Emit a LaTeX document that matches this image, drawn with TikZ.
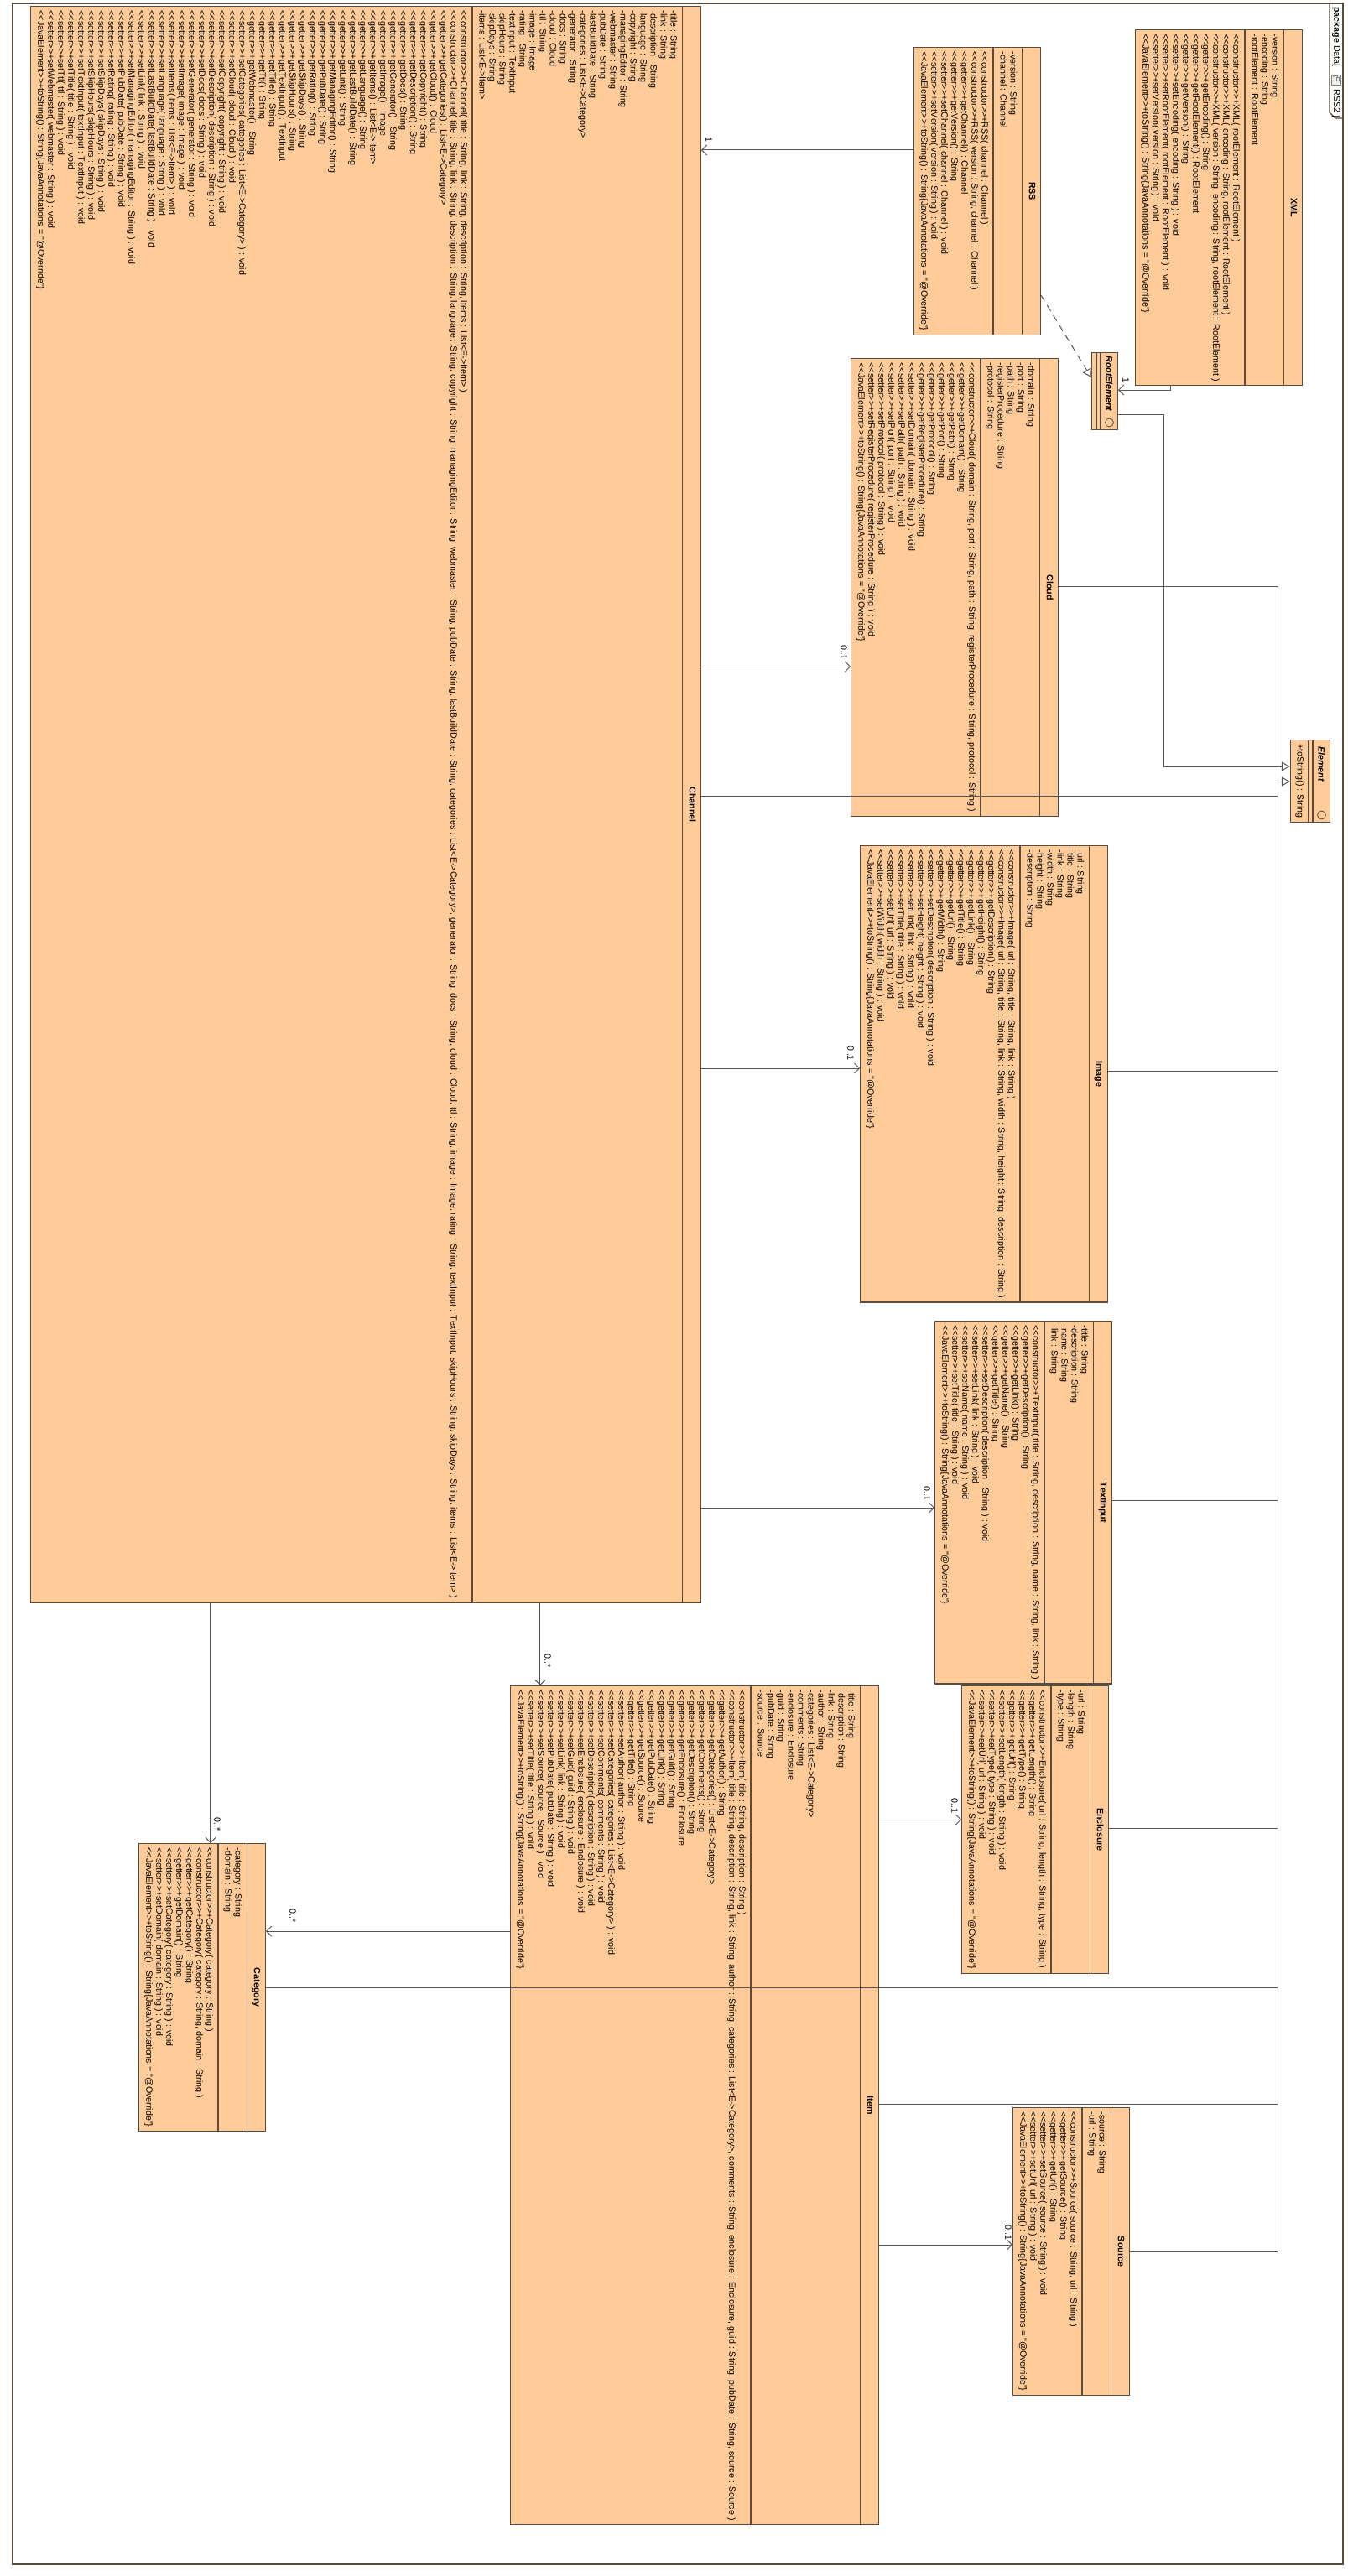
\documentclass[tikz,border=0pt]{standalone}
\usepackage{fontspec}
\newfontfamily\umlf{Liberation Sans}[Kerning=Off]
\usetikzlibrary{shapes.multipart,arrows.meta}
\definecolor{boxfill}{RGB}{255,204,153}
\definecolor{boxline}{RGB}{92,74,58}
\definecolor{linecol}{RGB}{85,85,85}
\newcommand\st[1]{<\kern0pt<#1>\kern0pt>}
\newcommand\umlsize{\umlf\fontsize{5.35}{6}\selectfont}
\newcommand\tostr{\st{JavaElement}+toString() : String\{JavaAnnotations = "@Override"\}}
\newcommand\umlclass[6]{\node[umlbox, minimum width=#3] (#1) at (#2) {\begin{tabular}{@{}c@{}}\textbf{#4}\end{tabular}\nodepart{two}\begin{tabular}{@{}l@{}}#5\end{tabular}\nodepart{three}\begin{tabular}{@{}l@{}}#6\end{tabular}};}
\tikzset{
 umlbox/.style={rectangle split, rectangle split parts=3, draw=boxline, fill=boxfill, line width=0.6pt, inner xsep=2.5pt, inner ysep=2.25pt, anchor=north west, font=\umlsize, rectangle split part align={center,left,left}},
 plainbox/.style={draw=boxline, fill=boxfill, line width=0.6pt, inner sep=0pt, anchor=north west},
 assoc/.style={draw=linecol, line width=0.5pt, -{Straight Barb[length=3pt,width=6pt]}},
 genl/.style={draw=linecol, line width=0.5pt},
 gen/.style={draw=linecol, line width=0.5pt, -{Triangle[length=5pt,width=5.5pt,fill=white]}},
 real/.style={gen, dash pattern=on 4pt off 3pt},
 mult/.style={font=\umlsize, inner sep=0pt},
}
\begin{document}
\begin{tikzpicture}[x=0.5pt,y=-0.5pt,rotate=-90,transform shape]
\fill[white] (0,0) rectangle (3072,1606);
\useasboundingbox (0,0) rectangle (3072,1606);
% frame
\draw[draw=boxline, line width=0.6pt] (4,5) rectangle (3058,1591);
\coordinate (tab1) at (4,21);
\coordinate (tab2) at (134,21);
\coordinate (tab3) at (141,14);
\coordinate (tab4) at (141,5);
\draw[draw=boxline, line width=0.6pt] (tab1) -- (tab2) -- (tab3) -- (tab4);
\node[mult, anchor=west] (pkgl) at (8,13) {\textbf{package} Data[};
\node[draw=gray, fill=gray!15, minimum width=6pt, minimum height=5.5pt, inner sep=0pt, anchor=west] (pkgicon) at (89,13) {};
\node[mult, anchor=west] (pkgr) at (106,13) {RSS2 ]};
\draw[gray, line width=0.3pt] (92,10) rectangle (96,13) (92,11.5) -- (90,11.5) -- (90,17) -- (92,17) (90,14.5)--(92,14.5);
% classes
\umlclass{xml}{35,53}{208.5pt}{XML}{-version : String\\-encoding : String\\-rootElement : RootElement}{%
\st{constructor}+XML( rootElement : RootElement )\\
\st{constructor}+XML( encoding : String, rootElement : RootElement )\\
\st{constructor}+XML( version : String, encoding : String, rootElement : RootElement )\\
\st{getter}+getEncoding() : String\\
\st{getter}+getRootElement() : RootElement\\
\st{getter}+getVersion() : String\\
\st{setter}+setEncoding( encoding : String ) : void\\
\st{setter}+setRootElement( rootElement : RootElement ) : void\\
\st{setter}+setVersion( version : String ) : void\\
\tostr}
\umlclass{rss}{56,365}{170pt}{RSS}{-version : String\\-channel : Channel}{%
\st{constructor}+RSS( channel : Channel )\\
\st{constructor}+RSS( version : String, channel : Channel )\\
\st{getter}+getChannel() : Channel\\
\st{getter}+getVersion() : String\\
\st{setter}+setChannel( channel : Channel ) : void\\
\st{setter}+setVersion( version : String ) : void\\
\tostr}
\umlclass{channel}{7,770}{941pt}{Channel}{-title : String\\-link : String\\-description : String\\-language : String\\-copyright : String\\-managingEditor : String\\-webmaster : String\\-pubDate : String\\-lastBuildDate : String\\-categories : List<E->Category>\\-generator : String\\-docs : String\\-cloud : Cloud\\-ttl : String\\-image : Image\\-rating : String\\-textInput : TextInput\\-skipHours : String\\-skipDays : String\\-items : List<E->Item>}{%
\st{constructor}+Channel( title : String, link : String, description : String, items : List<E->Item> )\\
\st{constructor}+Channel( title : String, link : String, description : String, language : String, copyright : String, managingEditor : String, webmaster : String, pubDate : String, lastBuildDate : String, categories : List<E->Category>, generator : String, docs : String, cloud : Cloud, ttl : String, image : Image, rating : String, textInput : TextInput, skipHours : String, skipDays : String, items : List<E->Item> )\\
\st{getter}+getCategories() : List<E->Category>\\
\st{getter}+getCloud() : Cloud\\
\st{getter}+getCopyright() : String\\
\st{getter}+getDescription() : String\\
\st{getter}+getDocs() : String\\
\st{getter}+getGenerator() : String\\
\st{getter}+getImage() : Image\\
\st{getter}+getItems() : List<E->Item>\\
\st{getter}+getLanguage() : String\\
\st{getter}+getLastBuildDate() : String\\
\st{getter}+getLink() : String\\
\st{getter}+getManagingEditor() : String\\
\st{getter}+getPubDate() : String\\
\st{getter}+getRating() : String\\
\st{getter}+getSkipDays() : String\\
\st{getter}+getSkipHours() : String\\
\st{getter}+getTextInput() : TextInput\\
\st{getter}+getTitle() : String\\
\st{getter}+getTtl() : String\\
\st{getter}+getWebmaster() : String\\
\st{setter}+setCategories( categories : List<E->Category> ) : void\\
\st{setter}+setCloud( cloud : Cloud ) : void\\
\st{setter}+setCopyright( copyright : String ) : void\\
\st{setter}+setDescription( description : String ) : void\\
\st{setter}+setDocs( docs : String ) : void\\
\st{setter}+setGenerator( generator : String ) : void\\
\st{setter}+setImage( image : Image ) : void\\
\st{setter}+setItems( items : List<E->Item> ) : void\\
\st{setter}+setLanguage( language : String ) : void\\
\st{setter}+setLastBuildDate( lastBuildDate : String ) : void\\
\st{setter}+setLink( link : String ) : void\\
\st{setter}+setManagingEditor( managingEditor : String ) : void\\
\st{setter}+setPubDate( pubDate : String ) : void\\
\st{setter}+setRating( rating : String ) : void\\
\st{setter}+setSkipDays( skipDays : String ) : void\\
\st{setter}+setSkipHours( skipHours : String ) : void\\
\st{setter}+setTextInput( textInput : TextInput ) : void\\
\st{setter}+setTitle( title : String ) : void\\
\st{setter}+setTtl( ttl : String ) : void\\
\st{setter}+setWebmaster( webmaster : String ) : void\\
\tostr}
\umlclass{cloud}{427,344}{271.5pt}{Cloud}{-domain : String\\-port : String\\-path : String\\-registerProcedure : String\\-protocol : String}{%
\st{constructor}+Cloud( domain : String, port : String, path : String, registerProcedure : String, protocol : String )\\
\st{getter}+getDomain() : String\\
\st{getter}+getPath() : String\\
\st{getter}+getPort() : String\\
\st{getter}+getProtocol() : String\\
\st{getter}+getRegisterProcedure() : String\\
\st{setter}+setDomain( domain : String ) : void\\
\st{setter}+setPath( path : String ) : void\\
\st{setter}+setPort( port : String ) : void\\
\st{setter}+setProtocol( protocol : String ) : void\\
\st{setter}+setRegisterProcedure( registerProcedure : String ) : void\\
\tostr}
\umlclass{image}{1008,285}{269pt}{Image}{-url : String\\-title : String\\-link : String\\-width : String\\-height : String\\-description : String}{%
\st{constructor}+Image( url : String, title : String, link : String )\\
\st{constructor}+Image( url : String, title : String, link : String, width : String, height : String, description : String )\\
\st{getter}+getDescription() : String\\
\st{getter}+getHeight() : String\\
\st{getter}+getLink() : String\\
\st{getter}+getTitle() : String\\
\st{getter}+getUrl() : String\\
\st{getter}+getWidth() : String\\
\st{setter}+setDescription( description : String ) : void\\
\st{setter}+setHeight( height : String ) : void\\
\st{setter}+setLink( link : String ) : void\\
\st{setter}+setTitle( title : String ) : void\\
\st{setter}+setUrl( url : String ) : void\\
\st{setter}+setWidth( width : String ) : void\\
\tostr}
\umlclass{textinput}{1575,280}{213pt}{TextInput}{-title : String\\-description : String\\-name : String\\-link : String}{%
\st{constructor}+TextInput( title : String, description : String, name : String, link : String )\\
\st{getter}+getDescription() : String\\
\st{getter}+getLink() : String\\
\st{getter}+getName() : String\\
\st{getter}+getTitle() : String\\
\st{setter}+setDescription( description : String ) : void\\
\st{setter}+setLink( link : String ) : void\\
\st{setter}+setName( name : String ) : void\\
\st{setter}+setTitle( title : String ) : void\\
\tostr}
\umlclass{enclosure}{2010,284}{171pt}{Enclosure}{-url : String\\-length : String\\-type : String}{%
\st{constructor}+Enclosure( url : String, length : String, type : String )\\
\st{getter}+getLength() : String\\
\st{getter}+getType() : String\\
\st{getter}+getUrl() : String\\
\st{setter}+setLength( length : String ) : void\\
\st{setter}+setType( type : String ) : void\\
\st{setter}+setUrl( url : String ) : void\\
\tostr}
\umlclass{item}{2010,558}{498pt}{Item}{-title : String\\-description : String\\-link : String\\-author : String\\-categories : List<E->Category>\\-comments : String\\-enclosure : Enclosure\\-guid : String\\-pubDate : String\\-source : Source}{%
\st{constructor}+Item( title : String, description : String )\\
\st{constructor}+Item( title : String, description : String, link : String, author : String, categories : List<E->Category>, comments : String, enclosure : Enclosure, guid : String, pubDate : String, source : Source )\\
\st{getter}+getAuthor() : String\\
\st{getter}+getCategories() : List<E->Category>\\
\st{getter}+getComments() : String\\
\st{getter}+getDescription() : String\\
\st{getter}+getEnclosure() : Enclosure\\
\st{getter}+getGuid() : String\\
\st{getter}+getLink() : String\\
\st{getter}+getPubDate() : String\\
\st{getter}+getSource() : Source\\
\st{getter}+getTitle() : String\\
\st{setter}+setAuthor( author : String ) : void\\
\st{setter}+setCategories( categories : List<E->Category> ) : void\\
\st{setter}+setComments( comments : String ) : void\\
\st{setter}+setDescription( description : String ) : void\\
\st{setter}+setEnclosure( enclosure : Enclosure ) : void\\
\st{setter}+setGuid( guid : String ) : void\\
\st{setter}+setLink( link : String ) : void\\
\st{setter}+setPubDate( pubDate : String ) : void\\
\st{setter}+setSource( source : Source ) : void\\
\st{setter}+setTitle( title : String ) : void\\
\tostr}
\umlclass{category}{2198,1289}{170pt}{Category}{-category : String\\-domain : String}{%
\st{constructor}+Category( category : String )\\
\st{constructor}+Category( category : String, domain : String )\\
\st{getter}+getCategory() : String\\
\st{getter}+getDomain() : String\\
\st{setter}+setCategory( category : String ) : void\\
\st{setter}+setDomain( domain : String ) : void\\
\tostr}
\umlclass{source}{2513,259}{170pt}{Source}{-source : String\\-url : String}{%
\st{constructor}+Source( source : String, url : String )\\
\st{getter}+getSource() : String\\
\st{getter}+getUrl() : String\\
\st{setter}+setSource( source : String ) : void\\
\st{setter}+setUrl( url : String ) : void\\
\tostr}
% interfaces
\node[plainbox, minimum width=46pt, minimum height=15.5pt] (rootel) at (420,273) {};
\draw[draw=boxline, line width=0.6pt] (420,294) -- (512,294) (420,299) -- (512,299);
\node[mult, anchor=west] (rootelname) at (424,283.5) {\textbf{\textit{RootElement}}};
\draw[draw=boxline, line width=0.4pt] (504,283.5) circle (5);
\node[plainbox, minimum width=49pt, minimum height=23.5pt] (element) at (882,20) {};
\draw[draw=boxline, line width=0.6pt] (882,41) -- (980,41) (882,46) -- (980,46);
\node[mult, anchor=west] (elementname) at (890,30.5) {\textbf{\textit{Element}}};
\draw[draw=boxline, line width=0.4pt] (972,30.5) circle (5);
\node[mult, anchor=west] (elementop) at (887,56.5) {+toString() : String};
% XML -> RootElement
\coordinate (xr1) at (465,210);
\draw[assoc] (xml.east |- 0,210) -- (xr1) -- (xr1 |- rootel.north);
\node[mult] (m1) at (453,264) {1};
% RSS -> Channel
\draw[assoc] (179,0 |- rss.south) -- (179,0 |- channel.north);
\node[mult] (m2) at (166,761) {1};
% RSS realizes RootElement
\draw[real] (352,0 |- rss.north) -- (450,0 |- rootel.south);
% RootElement -> Element
\coordinate (re1) at (494,218);
\coordinate (re2) at (914,218);
\draw[gen] (re1 |- rootel.north) -- (re1) -- (re2) -- (re2 |- element.south);
% generalization trunk
\coordinate (tcloud) at (699,83);
\coordinate (tchan) at (949,83);
\coordinate (tel) at (932,83);
\coordinate (timg) at (1277,83);
\coordinate (ttext) at (1789,83);
\coordinate (tencl) at (2180,83);
\coordinate (tcat) at (2370,83);
\coordinate (titem) at (2509,83);
\coordinate (tsrc) at (2685,83);
\draw[genl] (tcloud |- cloud.north) -- (tcloud) -- (tsrc);
\draw[genl] (tchan |- channel.north) -- (tchan);
\draw[genl] (timg |- image.north) -- (timg);
\draw[genl] (ttext |- textinput.north) -- (ttext);
\draw[genl] (tencl |- enclosure.north) -- (tencl);
\draw[genl] (tcat |- category.north) -- (tcat);
\draw[genl] (titem |- item.north) -- (titem);
\draw[genl] (tsrc |- source.north) -- (tsrc);
\draw[gen] (tel) -- (tel |- element.south);
% associations from Channel
\draw[assoc] (795,0 |- channel.north) -- (795,0 |- cloud.south);
\node[mult] (m3) at (778,600) {0..1};
\draw[assoc] (1274,0 |- channel.north) -- (1274,0 |- image.south);
\node[mult] (m4) at (1256,592) {0..1};
\draw[assoc] (1798,0 |- channel.north) -- (1798,0 |- textinput.south);
\node[mult] (m5) at (1781,501) {0..1};
\draw[assoc] (channel.east |- 0,962) -- (item.west |- 0,962);
\node[mult] (m6) at (1981,953) {0..*};
\draw[assoc] (channel.east |- 0,1355) -- (category.west |- 0,1355);
\node[mult] (m7) at (2176,1347) {0..*};
% associations from Item
\draw[assoc] (2303,0 |- item.south) -- (2303,0 |- category.north);
\node[mult] (m8) at (2285,1257) {0..*};
\draw[assoc] (2170,0 |- item.north) -- (2170,0 |- enclosure.south);
\node[mult] (m9) at (2153,468) {0..1};
\draw[assoc] (2677,0 |- item.north) -- (2677,0 |- source.south);
\node[mult] (m10) at (2662,404) {0..1};
\end{tikzpicture}
\end{document}
